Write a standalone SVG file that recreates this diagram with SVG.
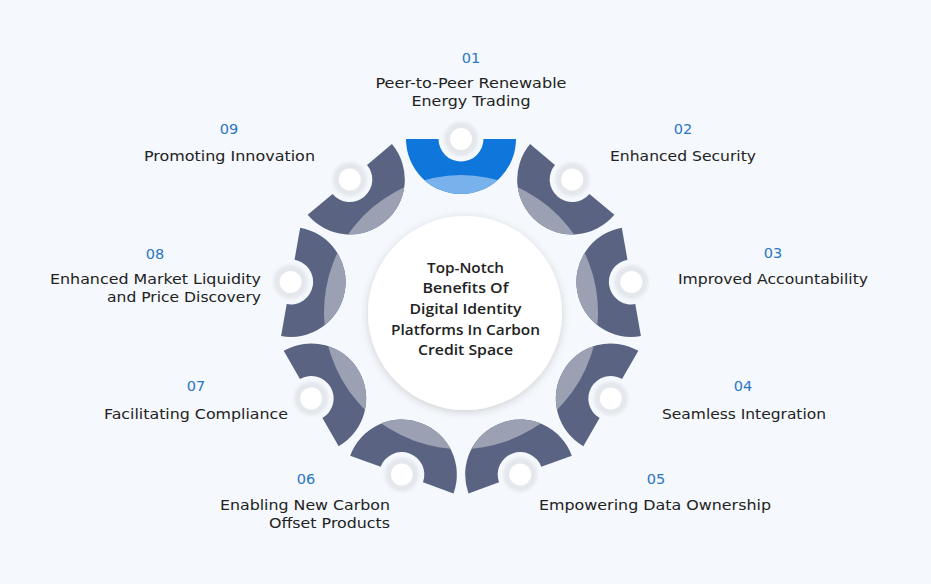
<svg xmlns="http://www.w3.org/2000/svg" xmlns:xlink="http://www.w3.org/1999/xlink" width="931" height="584" viewBox="0 0 931 584">
<style>
.bg{fill:#f5f8fc}
.dark{fill:#5a6482}
.light{fill:#9ba1b3}
.blue{fill:#0f76dc}
.lblue{fill:#79b1ec}
.halo{fill:#e4e7ec;filter:url(#blur)}
.dot{fill:#ffffff}
.num{font-family:"DejaVu Sans","Noto Sans",sans-serif;font-size:14.5px;fill:#2a76c4;text-anchor:middle}
.lbl{font-family:"DejaVu Sans","Noto Sans",sans-serif;font-size:14.5px;fill:#222222}
.mid{text-anchor:middle}
.end{text-anchor:end}
.ctr{font-family:"Open Sans","Noto Sans",sans-serif;font-size:14.5px;font-weight:600;fill:#222222;text-anchor:middle}
</style>
<defs>
<path id="segShape" d="M406,139 H438.5 A22.5,22.5 0 0 0 483.5,139 H516 A55,55 0 0 1 406,139 Z"/>
<clipPath id="segClip"><use xlink:href="#segShape" href="#segShape"/></clipPath>
<filter id="blur" x="-50%" y="-50%" width="200%" height="200%"><feGaussianBlur stdDeviation="1.8"/></filter>
<filter id="shadow" x="-20%" y="-20%" width="140%" height="140%"><feDropShadow dx="0" dy="2" stdDeviation="4" flood-color="#000000" flood-opacity="0.16"/></filter>
</defs>
<rect class="bg" x="0" y="0" width="931" height="584"/>

<g id="connectors"></g>

<g id="center">
<circle cx="465" cy="313" r="97" fill="#ffffff" filter="url(#shadow)"/>
<text class="ctr" x="465.5" y="273" textLength="77" lengthAdjust="spacingAndGlyphs">Top-Notch</text>
<text class="ctr" x="465.5" y="293" textLength="86" lengthAdjust="spacingAndGlyphs">Benefits Of</text>
<text class="ctr" x="465.5" y="314" textLength="112" lengthAdjust="spacingAndGlyphs">Digital Identity</text>
<text class="ctr" x="465.5" y="335" textLength="149" lengthAdjust="spacingAndGlyphs">Platforms In Carbon</text>
<text class="ctr" x="465.5" y="355" textLength="95" lengthAdjust="spacingAndGlyphs">Credit Space</text>
</g>

<g id="node-01">
<g transform="rotate(0 461 312)">
<use xlink:href="#segShape" href="#segShape" class="blue"/>
<circle class="lblue" cx="461" cy="312" r="137" clip-path="url(#segClip)"/>
<circle class="halo" cx="461" cy="139" r="17"/>
<circle class="dot" cx="461" cy="139" r="11"/>
</g>
<text class="num" x="471" y="63">01</text>
<text class="lbl mid" x="471" y="88" textLength="191" lengthAdjust="spacingAndGlyphs">Peer-to-Peer Renewable</text>
<text class="lbl mid" x="471" y="105.5" textLength="119" lengthAdjust="spacingAndGlyphs">Energy Trading</text>
</g>

<g id="node-02">
<g transform="rotate(40 461 312)">
<use xlink:href="#segShape" href="#segShape" class="dark"/>
<circle class="light" cx="461" cy="312" r="137" clip-path="url(#segClip)"/>
<circle class="halo" cx="461" cy="139" r="17"/>
<circle class="dot" cx="461" cy="139" r="11"/>
</g>
<text class="num" x="683" y="134">02</text>
<text class="lbl mid" x="683" y="161" textLength="146" lengthAdjust="spacingAndGlyphs">Enhanced Security</text>
</g>

<g id="node-03">
<g transform="rotate(80 461 312)">
<use xlink:href="#segShape" href="#segShape" class="dark"/>
<circle class="light" cx="461" cy="312" r="137" clip-path="url(#segClip)"/>
<circle class="halo" cx="461" cy="139" r="17"/>
<circle class="dot" cx="461" cy="139" r="11"/>
</g>
<text class="num" x="773" y="258">03</text>
<text class="lbl mid" x="773" y="284" textLength="190" lengthAdjust="spacingAndGlyphs">Improved Accountability</text>
</g>

<g id="node-04">
<g transform="rotate(120 461 312)">
<use xlink:href="#segShape" href="#segShape" class="dark"/>
<circle class="light" cx="461" cy="312" r="137" clip-path="url(#segClip)"/>
<circle class="halo" cx="461" cy="139" r="17"/>
<circle class="dot" cx="461" cy="139" r="11"/>
</g>
<text class="num" x="743" y="391">04</text>
<text class="lbl mid" x="744" y="419" textLength="164" lengthAdjust="spacingAndGlyphs">Seamless Integration</text>
</g>

<g id="node-05">
<g transform="rotate(160 461 312)">
<use xlink:href="#segShape" href="#segShape" class="dark"/>
<circle class="light" cx="461" cy="312" r="137" clip-path="url(#segClip)"/>
<circle class="halo" cx="461" cy="139" r="17"/>
<circle class="dot" cx="461" cy="139" r="11"/>
</g>
<text class="num" x="656" y="484">05</text>
<text class="lbl mid" x="655" y="510" textLength="232" lengthAdjust="spacingAndGlyphs">Empowering Data Ownership</text>
</g>

<g id="node-06">
<g transform="rotate(200 461 312)">
<use xlink:href="#segShape" href="#segShape" class="dark"/>
<circle class="light" cx="461" cy="312" r="137" clip-path="url(#segClip)"/>
<circle class="halo" cx="461" cy="139" r="17"/>
<circle class="dot" cx="461" cy="139" r="11"/>
</g>
<text class="num" x="306" y="484">06</text>
<text class="lbl end" x="390" y="510" textLength="170" lengthAdjust="spacingAndGlyphs">Enabling New Carbon</text>
<text class="lbl end" x="390" y="527.5" textLength="121" lengthAdjust="spacingAndGlyphs">Offset Products</text>
</g>

<g id="node-07">
<g transform="rotate(240 461 312)">
<use xlink:href="#segShape" href="#segShape" class="dark"/>
<circle class="light" cx="461" cy="312" r="137" clip-path="url(#segClip)"/>
<circle class="halo" cx="461" cy="139" r="17"/>
<circle class="dot" cx="461" cy="139" r="11"/>
</g>
<text class="num" x="196" y="391">07</text>
<text class="lbl mid" x="196" y="419" textLength="184" lengthAdjust="spacingAndGlyphs">Facilitating Compliance</text>
</g>

<g id="node-08">
<g transform="rotate(280 461 312)">
<use xlink:href="#segShape" href="#segShape" class="dark"/>
<circle class="light" cx="461" cy="312" r="137" clip-path="url(#segClip)"/>
<circle class="halo" cx="461" cy="139" r="17"/>
<circle class="dot" cx="461" cy="139" r="11"/>
</g>
<text class="num" x="155" y="259">08</text>
<text class="lbl end" x="261" y="284" textLength="211" lengthAdjust="spacingAndGlyphs">Enhanced Market Liquidity</text>
<text class="lbl end" x="261" y="301.5" textLength="154" lengthAdjust="spacingAndGlyphs">and Price Discovery</text>
</g>

<g id="node-09">
<g transform="rotate(320 461 312)">
<use xlink:href="#segShape" href="#segShape" class="dark"/>
<circle class="light" cx="461" cy="312" r="137" clip-path="url(#segClip)"/>
<circle class="halo" cx="461" cy="139" r="17"/>
<circle class="dot" cx="461" cy="139" r="11"/>
</g>
<text class="num" x="229" y="134">09</text>
<text class="lbl mid" x="229.5" y="161" textLength="171" lengthAdjust="spacingAndGlyphs">Promoting Innovation</text>
</g>
</svg>
